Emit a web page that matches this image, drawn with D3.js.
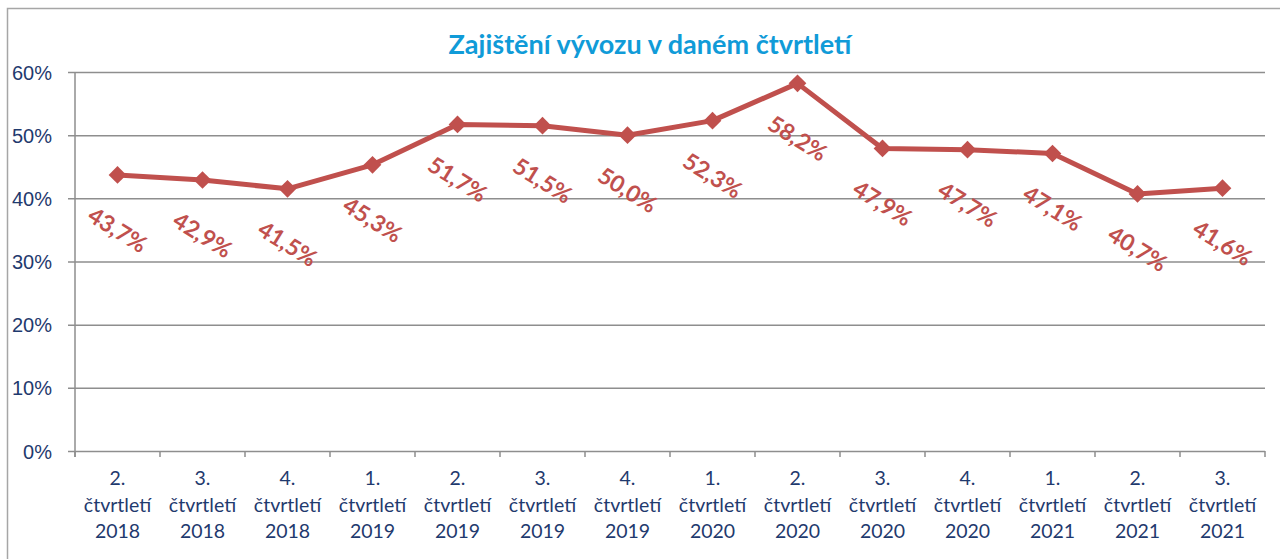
<!DOCTYPE html>
<meta charset="utf-8">
<style>
body {
	margin: 0;
	background: #fff;
}
svg {
	display: block;
	font-family: Lato, "Open Sans", sans-serif;
}
.y.axis text, .x.axis text {
	fill: #1f3a6e;
}
</style>
<body>
<svg></svg>
<script src="https://d3js.org/d3.v7.min.js"></script>
<script>

var quarters = ["2.", "3.", "4.", "1.", "2.", "3.", "4.", "1.", "2.", "3.", "4.", "1.", "2.", "3."];
var years = ["2018", "2018", "2018", "2019", "2019", "2019", "2019", "2020", "2020", "2020", "2020", "2021", "2021", "2021"];
var values = [43.7, 42.9, 41.5, 45.3, 51.7, 51.5, 50.0, 52.3, 58.2, 47.9, 47.7, 47.1, 40.7, 41.6];
var yTicks = [0, 10, 20, 30, 40, 50, 60];
var title = "Zajištění vývozu v daném čtvrtletí";

var width = 1280, height = 559;
var margin = {top: 72, right: 15, bottom: 108, left: 75};
var red = "#c0504d";
var grid = "#8e8e8e";

var svg = d3.select("svg")
	.attr("width", width)
	.attr("height", height);

// chart frame
svg.append("rect")
	.attr("x", 7.5)
	.attr("y", 8.5)
	.attr("width", 1300)
	.attr("height", 600)
	.attr("fill", "none")
	.attr("stroke", "#a6a6a6")
	.attr("stroke-width", 1.5);

var cats = quarters.map(function(q, i) { return i; });

var x = d3.scaleBand()
	.domain(cats)
	.range([margin.left, width - margin.right]);

var y = d3.scaleLinear()
	.domain([0, 60])
	.range([height - margin.bottom, margin.top]);

// gridlines + y axis
var yaxis = d3.axisLeft(y)
	.tickValues(yTicks)
	.tickSize(-(width - margin.right - margin.left))
	.tickFormat(function(d) { return d + "%"; });

var yg = svg.append("g")
	.attr("class", "y axis")
	.attr("transform", "translate(" + margin.left + ",0)")
	.call(yaxis);
yg.select(".domain").remove();
yg.selectAll("line").attr("stroke", grid).attr("stroke-width", 1.5).attr("x1", -7);
yg.selectAll("text")
	.attr("x", -23)
	.attr("dy", "0.35em")
	.style("font-size", "20px");

svg.append("line")
	.attr("x1", margin.left).attr("x2", margin.left)
	.attr("y1", y(60)).attr("y2", y(0) + 6)
	.attr("stroke", grid).attr("stroke-width", 1.5);

// x axis ticks at band edges
var xg = svg.append("g").attr("class", "x axis");
var edges = cats.map(function(c) { return x(c); }).concat([x.range()[1]]);
xg.selectAll("line.tk")
	.data(edges)
	.enter().append("line")
	.attr("x1", function(d) { return d; })
	.attr("x2", function(d) { return d; })
	.attr("y1", y(0))
	.attr("y2", y(0) + 6)
	.attr("stroke", grid)
	.attr("stroke-width", 1.5);

var lbl = xg.selectAll("text")
	.data(cats)
	.enter().append("text")
	.attr("text-anchor", "middle")
	.style("font-size", "19.5px")
	.attr("transform", function(d) { return "translate(" + (x(d) + x.bandwidth() / 2) + "," + (y(0) + 34) + ")"; });
lbl.append("tspan").attr("x", 0).attr("y", 0).text(function(d) { return quarters[d]; });
lbl.append("tspan").attr("x", 0).attr("y", 27).text("čtvrtletí");
lbl.append("tspan").attr("x", 0).attr("y", 53).text(function(d) { return years[d]; });

// title
svg.append("text")
	.attr("x", 650)
	.attr("y", 54)
	.attr("text-anchor", "middle")
	.style("font-size", "27px")
	.style("font-weight", "bold")
	.attr("fill", "#109bd8")
	.text(title);

// line
var line = d3.line()
	.x(function(d, i) { return x(i) + x.bandwidth() / 2; })
	.y(function(d) { return y(d); });

svg.append("path")
	.datum(values)
	.attr("d", line)
	.attr("fill", "none")
	.attr("stroke", red)
	.attr("stroke-width", 5)
	.attr("stroke-linejoin", "round");

svg.selectAll("path.mk")
	.data(values)
	.enter().append("path")
	.attr("class", "mk")
	.attr("d", d3.symbol().type(d3.symbolDiamond2).size(200))
	.attr("transform", function(d, i) { return "translate(" + (x(i) + x.bandwidth() / 2) + "," + y(d) + ")"; })
	.attr("fill", red);

// data labels
svg.selectAll("text.val")
	.data(values)
	.enter().append("text")
	.attr("class", "val")
	.attr("text-anchor", "middle")
	.attr("dy", "0.35em")
	.style("font-size", "23px")
	.style("font-weight", "bold")
	.attr("fill", red)
	.attr("transform", function(d, i) { return "translate(" + (x(i) + x.bandwidth() / 2) + "," + (y(d) + 55) + ") rotate(32)"; })
	.text(function(d) { return d.toFixed(1).replace(".", ",") + "%"; });

</script>
</body>
